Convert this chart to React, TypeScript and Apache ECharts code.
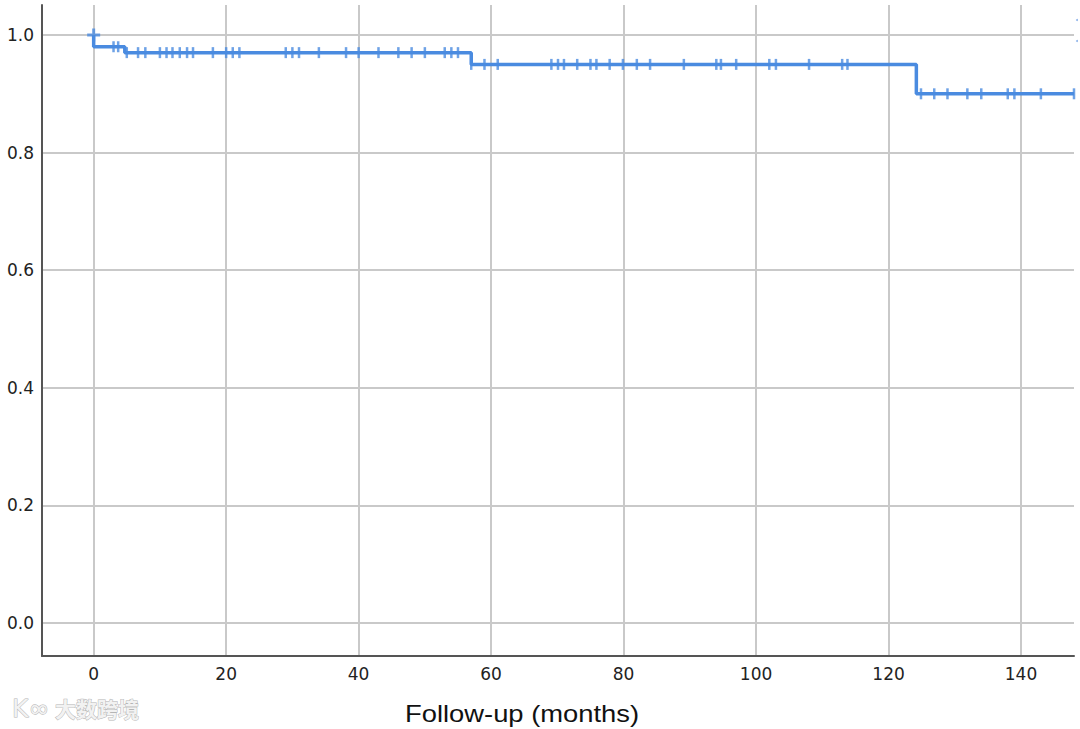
import React, { useEffect, useRef } from "react";
import * as echarts from "echarts";

// Kaplan-Meier step curve: event times and survival after each event
const eventTimes = [0, 0, 4.7, 57, 124.2, 148];
const survival = [1.0, 0.98, 0.97, 0.95, 0.9, 0.9];

// censor marks grouped by survival level
const censor100 = [0];
const censor098 = [3.0, 3.7];
const censor097 = [5.0, 6.7, 7.8, 10, 11, 11.9, 13, 14.1, 15, 18, 20, 21, 22, 29, 30, 31, 34, 38.1, 40, 43, 46, 48, 50, 53, 54, 55];
const censor095 = [57, 59, 61, 69.1, 70.1, 71, 73, 75, 75.9, 77.9, 79.9, 82, 84, 89.1, 94, 94.7, 97, 102, 103, 108, 113, 113.8];
const censor090 = [124.9, 126.9, 128.9, 131.9, 134, 138, 139, 143, 148];

const xTicks = [0, 20, 40, 60, 80, 100, 120, 140];
const yTicks = [0, 0.2, 0.4, 0.6, 0.8, 1.0];

const xTitle = "Follow-up (months)";
const watermark = "大数跨境";

export default function App() {
  const ref = useRef<HTMLDivElement>(null);
  useEffect(() => {
    if (!ref.current) return;
    const chart = echarts.init(ref.current, undefined, { renderer: "svg" });
    const blue = "#4a8be0";
    const grid = "#c9c9c9";
    const lineData = eventTimes.map((t, i) => [t, survival[i]]);
    const censorData: any[] = [];
    const levels: [number[], number][] = [
      [censor100, 1.0],
      [censor098, 0.98],
      [censor097, 0.97],
      [censor095, 0.95],
      [censor090, 0.9],
    ];
    levels.forEach(([arr, lv]) => arr.forEach((t) => censorData.push([t, lv])));
    const plus = "path://M5,0h3v13h-3zM0,5h13v3h-13z";
    chart.setOption({
      animation: false,
      backgroundColor: "#ffffff",
      grid: { left: 42, right: 6, top: 5, bottom: 73, containLabel: false },
      xAxis: {
        type: "value",
        min: -7.8,
        max: 148,
        axisLine: { show: true, onZero: false, lineStyle: { color: "#555", width: 2 } },
        axisTick: { show: false, customValues: xTicks },
        axisLabel: {
          customValues: xTicks,
          color: "#222",
          fontSize: 17,
          fontFamily: "DejaVu Sans",
          margin: 9,
        },
        splitLine: { show: true, lineStyle: { color: grid, width: 2 } },
      },
      yAxis: {
        type: "value",
        min: -0.056,
        max: 1.051,
        axisLine: { show: true, onZero: false, lineStyle: { color: "#555", width: 2 } },
        axisTick: { show: false, customValues: yTicks },
        axisLabel: {
          customValues: yTicks,
          color: "#222",
          fontSize: 17,
          fontFamily: "DejaVu Sans",
          margin: 8,
          formatter: (v: number) => v.toFixed(1),
        },
        splitLine: { show: true, lineStyle: { color: grid, width: 2 } },
      },
      graphic: [
        {
          type: "text",
          x: 405,
          y: 702,
          scaleX: 1.19,
          style: {
            text: xTitle,
            fontSize: 23,
            fontFamily: "Liberation Sans, Arial",
            fill: "#111",
          },
        },
        {
          type: "text",
          x: 12,
          y: 696,
          style: {
            text: "K∞",
            fontSize: 25,
            fontFamily: "DejaVu Sans",
            fill: "#f2f2f2",
            stroke: "#b5b5b5",
            lineWidth: 1,
          },
        },
        {
          type: "text",
          x: 55,
          y: 697,
          style: {
            text: watermark,
            fontSize: 21,
            fontFamily: "Noto Sans CJK SC",
            fontWeight: "bold",
            fill: "#f2f2f2",
            stroke: "#b5b5b5",
            lineWidth: 1,
          },
        },
        { type: "circle", shape: { cx: 1077, cy: 20, r: 1 }, style: { fill: "#8fb4ea" } },
        { type: "circle", shape: { cx: 1077, cy: 41, r: 1 }, style: { fill: "#8fb4ea" } },
      ],
      series: [
        {
          type: "line",
          step: "end",
          data: lineData,
          showSymbol: false,
          symbol: "none",
          lineStyle: { color: blue, width: 3.5 },
          silent: true,
        },
        {
          type: "scatter",
          data: censorData,
          symbol: (v: number[]) => (v[1] === 1.0 ? plus : "rect"),
          symbolSize: (v: number[]) => (v[1] === 1.0 ? [13, 13] : [2.5, 11]),
          itemStyle: { color: blue },
          silent: true,
        },
      ],
    });
    return () => chart.dispose();
  }, []);
  return (
    <div
      ref={ref}
      style={{ position: "absolute", left: 0, top: 0, width: 1080, height: 729 }}
    />
  );
}
